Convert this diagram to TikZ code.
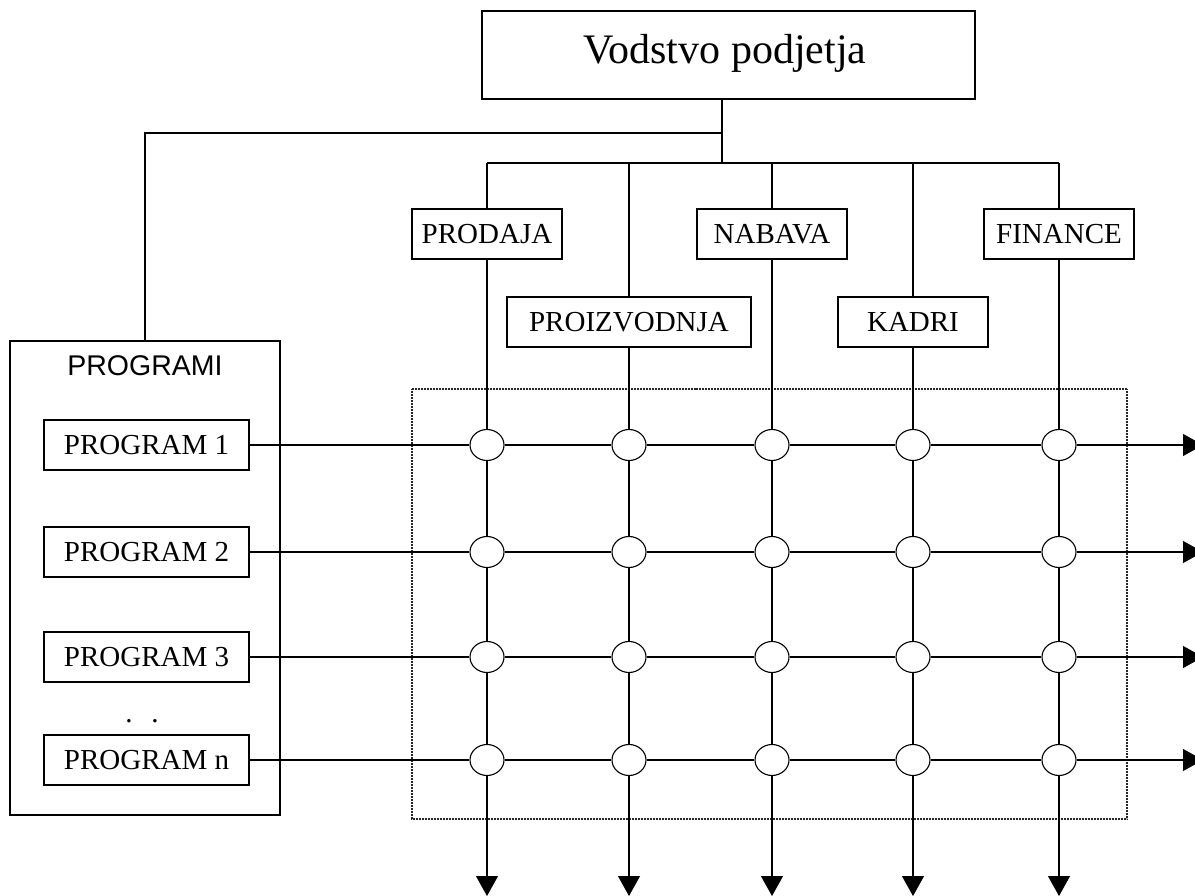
\documentclass[tikz,border=0pt]{standalone}
\usepackage{fontspec}
\setmainfont{Liberation Serif}
\setsansfont{Liberation Sans}
\usetikzlibrary{arrows.meta,shapes.geometric,calc}
\begin{document}
\begin{tikzpicture}[x=1pt,y=-1pt,
  line width=1.1pt,
  lbl/.style={draw, rectangle, inner sep=0pt, minimum height=50pt, font=\fontsize{29}{34}\selectfont},
  knot/.style={draw, ellipse, fill=white, inner sep=0pt, minimum width=34pt, minimum height=31pt},
  conn/.style={draw, line width=1.1pt},
  arr/.style={-{Triangle[width=22pt,length=20pt]}},
  frame/.style={draw, line width=1.1pt, dash pattern=on 1pt off 0.5pt, black!85}]
\useasboundingbox (0,0) rectangle (1195,896);

% top box
\node[draw, rectangle, inner sep=0pt, minimum width=493pt, minimum height=88pt] (top) at (728.5,55) {};
\node[font=\fontsize{42}{48}\selectfont, inner sep=0pt] (toptxt) at (725,53) {Vodstvo podjetja};

% departments
\node[lbl, minimum width=150pt] (prodaja) at (487,234) {PRODAJA};
\node[lbl, minimum width=150pt] (nabava) at (772,234) {NABAVA};
\node[lbl, minimum width=150pt] (finance) at (1059,234) {FINANCE};
\node[lbl, minimum width=244pt] (proizv) at (629,322) {PROIZVODNJA};
\node[lbl, minimum width=150pt] (kadri) at (913,322) {KADRI};

% programs
\node[draw, rectangle, inner sep=0pt, minimum width=270pt, minimum height=474pt] (programi) at (145,578) {};
\node[font=\sffamily\fontsize{28.5}{33}\selectfont, inner sep=0pt] (programitxt) at (145,366) {PROGRAMI};
\node[lbl, minimum width=205pt] (p1) at (146.5,445) {PROGRAM 1};
\node[lbl, minimum width=205pt] (p2) at (146.5,552) {PROGRAM 2};
\node[lbl, minimum width=205pt] (p3) at (146.5,657) {PROGRAM 3};
\node[lbl, minimum width=205pt] (p4) at (146.5,760) {PROGRAM n};
\node[font=\fontsize{29}{33}\selectfont, inner sep=0pt, anchor=base] (dots) at (142,722) {.\hspace{19pt}.};

% connectors from top
\coordinate (stemtop) at (722,99);
\coordinate (stemmid) at (722,133);
\coordinate (stembus) at (722,163);
\coordinate (leftturn) at (145,133);
\draw[conn] (stemtop) -- (stembus);
\draw[conn] (stemmid) -- (leftturn) -- (programi.north);
\coordinate (busL) at (487,163);
\coordinate (busR) at (1059,163);
\coordinate (b2) at (629,163);
\coordinate (b3) at (772,163);
\coordinate (b4) at (913,163);
\draw[conn] (busL) -- (busR);
\draw[conn] (busL) -- (prodaja.north);
\draw[conn] (b2) -- (proizv.north);
\draw[conn] (b3) -- (nabava.north);
\draw[conn] (b4) -- (kadri.north);
\draw[conn] (busR) -- (finance.north);

% dotted frame
\draw[frame] (412,389) rectangle (1127,819);

% grid
\foreach \c/\x in {1/487,2/629,3/772,4/913,5/1059}{
  \foreach \r/\y in {1/445,2/552,3/657,4/760}{
    \node[knot] (k\r\c) at (\x,\y) {};
  }
  \coordinate (down\c) at (\x,896);
}
\foreach \r/\y in {1/445,2/552,3/657,4/760}{
  \coordinate (right\r) at (1203,\y);
}

% vertical connectors
\foreach \c/\src in {1/prodaja,2/proizv,3/nabava,4/kadri,5/finance}{
  \draw[conn] (\src.south) -- (k1\c.north);
  \draw[conn] (k1\c.south) -- (k2\c.north);
  \draw[conn] (k2\c.south) -- (k3\c.north);
  \draw[conn] (k3\c.south) -- (k4\c.north);
  \draw[conn, arr] (k4\c.south) -- (down\c);
}
% horizontal connectors
\foreach \r/\src in {1/p1,2/p2,3/p3,4/p4}{
  \draw[conn] (\src.east) -- (k\r1.west);
  \draw[conn] (k\r1.east) -- (k\r2.west);
  \draw[conn] (k\r2.east) -- (k\r3.west);
  \draw[conn] (k\r3.east) -- (k\r4.west);
  \draw[conn] (k\r4.east) -- (k\r5.west);
  \draw[conn, arr] (k\r5.east) -- (right\r);
}
\end{tikzpicture}
\end{document}
